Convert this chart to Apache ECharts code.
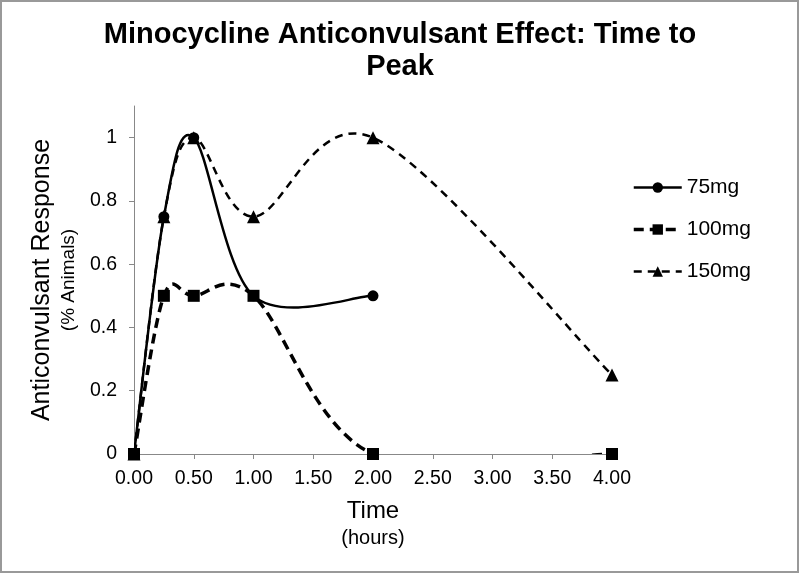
<!DOCTYPE html>
<html><head><meta charset="utf-8">
<script src="https://cdn.jsdelivr.net/npm/echarts@6/dist/echarts.min.js"></script>
<style>html,body{margin:0;padding:0;background:#fff}#c{width:800px;height:574px}</style>
</head><body><div id="c"></div>
<script>
const titleText = 'Minocycline Anticonvulsant Effect: Time to\nPeak';
const seriesNames = ['75mg', '100mg', '150mg'];
const times75 = [0, 0.25, 0.5, 1, 2];
const values75 = [0, 0.75, 1, 0.5, 0.5];
const times100 = [0, 0.25, 0.5, 1, 2, 4];
const values100 = [0, 0.5, 0.5, 0.5, 0, 0];
const times150 = [0, 0.25, 0.5, 1, 2, 4];
const values150 = [0, 0.75, 1, 0.75, 1, 0.25];

const pair = (xs, ys) => xs.map((x, i) => [x, ys[i]]);
const F = 'Liberation Sans, Arial, sans-serif';
const styles = [
  { width: 2.5, dash: null, symbol: 'circle', size: 11 },
  { width: 3.5, dash: [10, 6], symbol: 'rect', size: 12 },
  { width: 2.5, dash: [8, 6], symbol: 'triangle', size: 13 }
];
const allData = [pair(times75, values75), pair(times100, values100), pair(times150, values150)];

// Excel-like smoothed curve (Catmull-Rom as cubic Bezier) through the library's coordinates
function curveRenderer(points, st) {
  return function (params, api) {
    if (params.dataIndex !== 0) return null;
    const p = points.map(d => api.coord(d));
    let path = 'M' + p[0][0] + ' ' + p[0][1];
    for (let i = 0; i < p.length - 1; i++) {
      const p0 = p[Math.max(i - 1, 0)], p1 = p[i], p2 = p[i + 1], p3 = p[Math.min(i + 2, p.length - 1)];
      const c1x = p1[0] + (p2[0] - p0[0]) / 6, c1y = p1[1] + (p2[1] - p0[1]) / 6;
      const c2x = p2[0] - (p3[0] - p1[0]) / 6, c2y = p2[1] - (p3[1] - p1[1]) / 6;
      path += ' C' + c1x + ' ' + c1y + ' ' + c2x + ' ' + c2y + ' ' + p2[0] + ' ' + p2[1];
    }
    return { type: 'path', shape: { pathData: path }, style: { fill: null, stroke: '#000', lineWidth: st.width, lineDash: st.dash || null } };
  };
}

const series = [];
seriesNames.forEach((n, k) => {
  series.push({ name: n, type: 'line', data: allData[k], symbol: styles[k].symbol, symbolSize: styles[k].size,
    itemStyle: { color: '#000' }, lineStyle: { color: '#000', width: 0 }, z: 3 });
});
seriesNames.forEach((n, k) => {
  series.push({ name: n, type: 'custom', clip: true, data: allData[k], renderItem: curveRenderer(allData[k], styles[k]), z: 2 });
});

const chart = echarts.init(document.getElementById('c'));
chart.setOption({
  animation: false,
  backgroundColor: '#fff',
  title: { text: titleText, left: 'center', top: 14, textStyle: { fontFamily: F, fontSize: 29, fontWeight: 'bold', color: '#000', lineHeight: 32 } },
  grid: { left: 134, right: 188, top: 106, bottom: 120 },
  legend: {
    orient: 'vertical', left: 627, top: 172, itemGap: 21, itemWidth: 48, itemHeight: 13,
    textStyle: { fontFamily: F, fontSize: 21, color: '#000' },
    data: seriesNames.map((n, k) => ({ name: n,
      itemStyle: { color: '#000' },
      lineStyle: { color: '#000', width: styles[k].width, type: styles[k].dash || 'solid', opacity: 1 } }))
  },
  xAxis: {
    type: 'value', min: 0, max: 4, interval: 0.5,
    name: '{a|Time}\n{b|(hours)}', nameLocation: 'middle', nameGap: 42,
    nameTextStyle: { rich: { a: { fontFamily: F, fontSize: 24, color: '#000', lineHeight: 30 }, b: { fontFamily: F, fontSize: 20, color: '#000', lineHeight: 24 } } },
    axisLine: { lineStyle: { color: '#888', width: 1 } },
    axisTick: { show: true, length: 5, lineStyle: { color: '#888' } },
    axisLabel: { fontFamily: F, fontSize: 19.5, color: '#000', margin: 15, formatter: v => v.toFixed(2) },
    splitLine: { show: false }
  },
  yAxis: {
    type: 'value', min: 0, max: 1.1, interval: 0.2,
    name: '{a|Anticonvulsant Response}\n{b|(% Animals)}', nameLocation: 'middle', nameGap: 54, nameRotate: 90,
    nameTextStyle: { rich: { a: { fontFamily: F, fontSize: 25, color: '#000', lineHeight: 29 }, b: { fontFamily: F, fontSize: 19, color: '#000', lineHeight: 23 } } },
    axisLine: { show: true, lineStyle: { color: '#888', width: 1 } },
    axisTick: { show: true, length: 5, lineStyle: { color: '#888' } },
    axisLabel: { fontFamily: F, fontSize: 19.5, color: '#000', margin: 17, showMaxLabel: false, formatter: v => { const r = Math.round(v * 10) / 10; return Math.abs(r * 5 - Math.round(r * 5)) < 1e-6 ? String(r) : ''; } },
    splitLine: { show: false }
  },
  graphic: [{ type: 'rect', shape: { x: 1, y: 1, width: 797, height: 571 }, style: { fill: 'none', stroke: '#999', lineWidth: 2 }, silent: true }],
  series: series
});
</script></body></html>
